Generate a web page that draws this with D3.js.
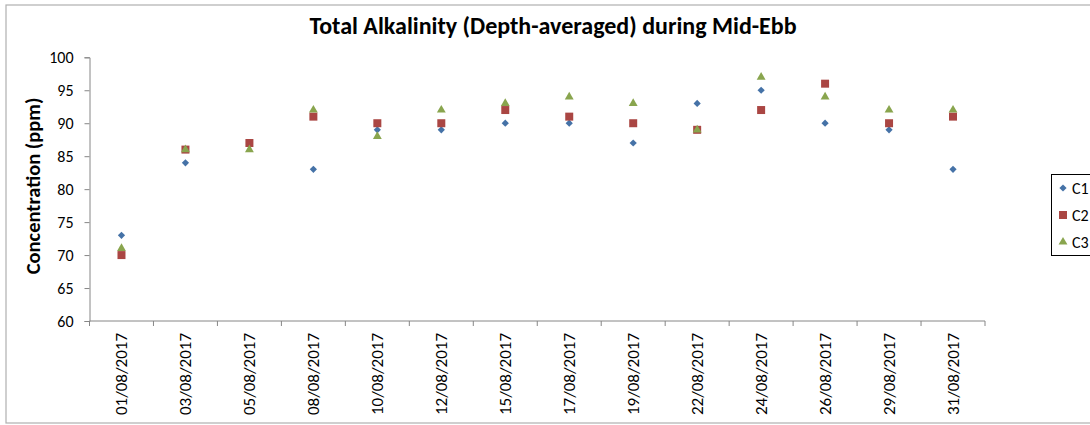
<!DOCTYPE html>
<html><head><meta charset="utf-8">
<script src="https://cdn.jsdelivr.net/npm/d3@7"></script>
<style>
body{margin:0;background:#fff;}
svg{display:block;font-family:Carlito, Calibri, Lato, "Open Sans", sans-serif;}
</style></head>
<body>
<svg id="chart" width="1090" height="425"></svg>
<script>
const categories = ["01/08/2017","03/08/2017","05/08/2017","08/08/2017","10/08/2017","12/08/2017","15/08/2017","17/08/2017","19/08/2017","22/08/2017","24/08/2017","26/08/2017","29/08/2017","31/08/2017"];
const seriesNames = ["C1","C2","C3"];
const c1 = [73,84,87,83,89,89,90,90,87,93,95,90,89,83];
const c2 = [70,86,87,91,90,90,92,91,90,89,92,96,90,91];
const c3 = [71,86,86,92,88,92,93,94,93,89,97,94,92,92];
const yTicks = [60,65,70,75,80,85,90,95,100];

(function(){
const svg = d3.select("#chart");
const pLeft = 89.5, pRight = 985, pTop = 57.3, pBottom = 321;

// outer chart border
svg.append("rect").attr("x",6).attr("y",5).attr("width",1100).attr("height",418)
  .attr("fill","none").attr("stroke","#b0b0b0").attr("stroke-width",1.2);

const x = d3.scaleBand().domain(categories).range([pLeft,pRight]);
const y = d3.scaleLinear().domain([60,100]).range([pBottom,pTop]);

// y axis
const yAxis = svg.append("g").attr("transform",`translate(${pLeft},0)`)
  .call(d3.axisLeft(y).tickValues(yTicks).tickSize(5).tickPadding(11));
yAxis.selectAll("path,line").attr("stroke","#868686");
yAxis.selectAll("text").attr("font-size","16px").attr("fill","#000")
  .attr("font-family","Carlito, Calibri, Lato, sans-serif");

// x axis with ticks at band edges
const xg = svg.append("g").attr("transform",`translate(0,${pBottom})`);
xg.append("line").attr("x1",pLeft).attr("x2",pRight).attr("y1",0).attr("y2",0).attr("stroke","#868686");
const edges = categories.map(c=>x(c)).concat([pRight]);
xg.selectAll(".tk").data(edges).enter().append("line")
  .attr("x1",d=>d).attr("x2",d=>d).attr("y1",0).attr("y2",5).attr("stroke","#868686");
xg.selectAll(".lb").data(categories).enter().append("text")
  .attr("transform",d=>`translate(${x(d)+x.bandwidth()/2+6},12) rotate(-90)`)
  .attr("text-anchor","end").attr("font-size","17px").attr("fill","#000")
  .text(d=>d);

// title
svg.append("text").attr("x",553).attr("y",34).attr("text-anchor","middle")
  .attr("font-size","24px").attr("font-weight","bold").attr("fill","#000")
  .text("Total Alkalinity (Depth-averaged) during Mid-Ebb");

// y label
svg.append("text").attr("transform","translate(40,186) rotate(-90)")
  .attr("text-anchor","middle").attr("font-size","20.5px").attr("font-weight","bold").attr("fill","#000")
  .text("Concentration (ppm)");

const colors = {C1:"#4572A7",C2:"#AA4643",C3:"#89A54E"};
const sizes = {C1:26,C2:64,C3:34};
const rot = {C1:45,C2:0,C3:0};
const data = {C1:c1,C2:c2,C3:c3};

function sym(name){ return d3.symbol().type(name==="C3"?d3.symbolTriangle:d3.symbolSquare).size(sizes[name]); }

seriesNames.forEach(name=>{
  svg.append("g").selectAll("path").data(data[name]).enter().append("path")
    .attr("d",sym(name)())
    .attr("transform",(d,i)=>`translate(${x(categories[i])+x.bandwidth()/2},${y(d)}) rotate(${rot[name]})`)
    .attr("fill",colors[name]);
});

// legend
const lg = svg.append("g");
lg.append("rect").attr("x",1051.5).attr("y",174.5).attr("width",60).attr("height",81)
  .attr("fill","#fff").attr("stroke","#000").attr("stroke-width",1);
seriesNames.forEach((name,i)=>{
  const yy = 188 + i*27;
  lg.append("path").attr("d",sym(name)()).attr("transform",`translate(1063,${yy}) rotate(${rot[name]})`).attr("fill",colors[name]);
  lg.append("text").attr("x",1072).attr("y",yy+5.5).attr("font-size","16px").attr("fill","#000").text(name);
});
})();
</script>
</body></html>
